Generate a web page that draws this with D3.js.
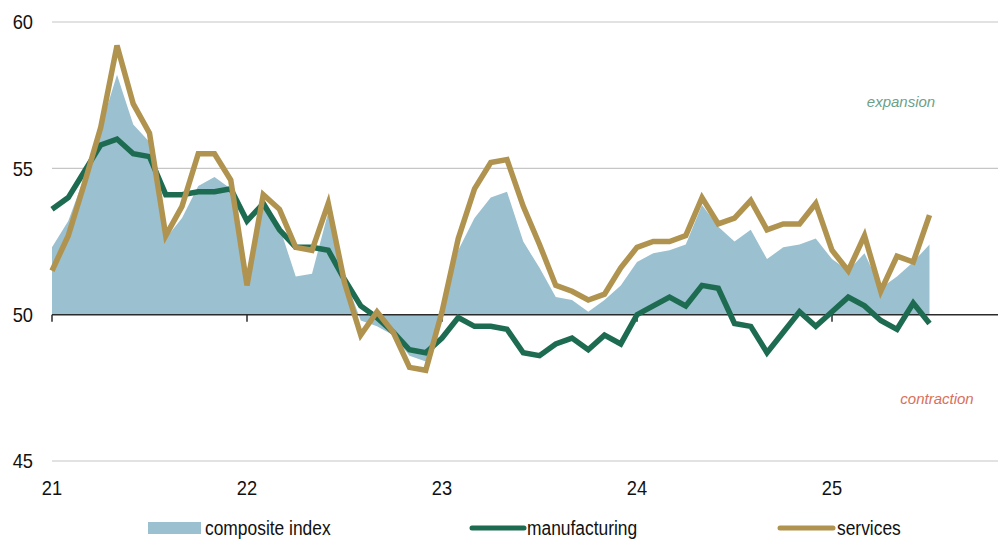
<!DOCTYPE html>
<html>
<head>
<meta charset="utf-8">
<script src="https://cdn.jsdelivr.net/npm/d3@7"></script>
<style>
  body { margin: 0; background: #fff; }
  svg { display: block; font-family: "Liberation Sans Narrow", "Arial Narrow", "Liberation Sans", Arial, sans-serif; }
</style>
</head>
<body>
<div id="chart"></div>
<script>
// monthly, Jan 2021 .. Jul 2025
const months = d3.timeMonth.range(new Date(2021, 0, 1), new Date(2025, 7, 1));

const composite = [
  52.3, 53.2, 54.7, 56.4, 58.2, 56.5, 55.9, 52.6, 53.3, 54.4, 54.7, 54.3,
  51.5, 54.0, 53.0, 51.3, 51.4, 53.5, 51.3, 49.8, 49.6, 49.3, 48.6, 48.4,
  50.2, 52.2, 53.3, 54.0, 54.2, 52.5, 51.6, 50.6, 50.5, 50.1, 50.5, 51.0,
  51.8, 52.1, 52.2, 52.4, 53.75, 53.0, 52.5, 52.9, 51.9, 52.3, 52.4, 52.6,
  51.9, 51.5, 52.1, 50.9, 51.3, 51.8, 52.4
];
const manufacturing = [
  53.6, 54.0, 54.9, 55.8, 56.0, 55.5, 55.4, 54.1, 54.1, 54.2, 54.2, 54.3,
  53.2, 53.8, 52.9, 52.3, 52.3, 52.2, 51.2, 50.3, 49.9, 49.4, 48.8, 48.7,
  49.2, 49.9, 49.6, 49.6, 49.5, 48.7, 48.6, 49.0, 49.2, 48.8, 49.3, 49.0,
  50.0, 50.3, 50.6, 50.3, 51.0, 50.9, 49.7, 49.6, 48.7, 49.4, 50.1, 49.6,
  50.1, 50.6, 50.3, 49.8, 49.5, 50.4, 49.7
];
const services = [
  51.5, 52.7, 54.5, 56.4, 59.2, 57.2, 56.2, 52.7, 53.7, 55.5, 55.5, 54.6,
  51.0, 54.1, 53.6, 52.3, 52.2, 53.8, 51.1, 49.3, 50.1, 49.4, 48.2, 48.1,
  50.1, 52.6, 54.3, 55.2, 55.3, 53.7, 52.4, 51.0, 50.8, 50.5, 50.7, 51.6,
  52.3, 52.5, 52.5, 52.7, 54.0, 53.1, 53.3, 53.9, 52.9, 53.1, 53.1, 53.8,
  52.2, 51.5, 52.7, 50.8, 52.0, 51.8, 53.4
];
const yTicks = [45, 50, 55, 60];
const xTickIdx = [0, 12, 24, 36, 48];
const xTickLabels = ["21", "22", "23", "24", "25"];

const W = 998, H = 539;
const svg = d3.select("#chart").append("svg").attr("width", W).attr("height", H);

const x = d3.scaleLinear().domain([0, 48]).range([52, 832]);
const y = d3.scaleLinear().domain([45, 60]).range([461, 22]);

const colArea = "#9bc0d0", colMan = "#1d6b50", colSer = "#b0934f";
const narrow = 0.87; // squeeze text like a narrow face

// grid
svg.append("g").selectAll("line")
  .data(yTicks.filter((d) => d !== 50))
  .enter().append("line")
  .attr("x1", 52).attr("x2", W)
  .attr("y1", (d) => y(d)).attr("y2", (d) => y(d))
  .attr("stroke", "#c6c6c6").attr("stroke-width", 1.2);

// y labels
svg.append("g").selectAll("text")
  .data(yTicks).enter().append("text")
  .attr("transform", (d) => "translate(33," + y(d) + ") scale(" + narrow + ",1)")
  .attr("dy", "0.35em")
  .attr("text-anchor", "end")
  .style("font-size", "21px").style("fill", "#111")
  .text((d) => d);

// composite area, around 50
const area = d3.area()
  .x((d, i) => x(i))
  .y0(y(50))
  .y1((d) => y(d));
svg.append("path").datum(composite)
  .attr("d", area).attr("fill", colArea);

// 50 baseline + year ticks
svg.append("line")
  .attr("x1", 52).attr("x2", W)
  .attr("y1", y(50)).attr("y2", y(50))
  .attr("stroke", "#2b2b2b").attr("stroke-width", 1.5);
svg.append("g").selectAll("line")
  .data(xTickIdx).enter().append("line")
  .attr("x1", (d) => x(d)).attr("x2", (d) => x(d))
  .attr("y1", y(50)).attr("y2", y(50) + 7)
  .attr("stroke", "#2b2b2b").attr("stroke-width", 1.5);

// x labels
svg.append("g").selectAll("text")
  .data(xTickIdx).enter().append("text")
  .attr("transform", (d) => "translate(" + x(d) + ",488) scale(" + narrow + ",1)")
  .attr("dy", "0.35em")
  .attr("text-anchor", "middle")
  .style("font-size", "21px").style("fill", "#111")
  .text((d, i) => xTickLabels[i]);

// lines
const line = d3.line().x((d, i) => x(i)).y((d) => y(d));
svg.append("path").datum(manufacturing)
  .attr("d", line).attr("fill", "none")
  .attr("stroke", colMan).attr("stroke-width", 5.5)
  .attr("stroke-linejoin", "miter");
svg.append("path").datum(services)
  .attr("d", line).attr("fill", "none")
  .attr("stroke", colSer).attr("stroke-width", 5.5)
  .attr("stroke-linejoin", "miter");

// annotations
svg.append("text").attr("x", 901).attr("y", 102).attr("dy", "0.35em")
  .attr("text-anchor", "middle")
  .style("font-family", "'Liberation Sans', Arial, sans-serif")
  .style("font-style", "italic").style("font-size", "15px")
  .style("fill", "#6d9f88").text("expansion");
svg.append("text").attr("x", 937).attr("y", 399).attr("dy", "0.35em")
  .attr("text-anchor", "middle")
  .style("font-family", "'Liberation Sans', Arial, sans-serif")
  .style("font-style", "italic").style("font-size", "15px")
  .style("fill", "#d8705c").text("contraction");

// legend
const legY = 528;
const leg = svg.append("g");
function legText(x0, label) {
  leg.append("text")
    .attr("transform", "translate(" + x0 + "," + legY + ") scale(" + narrow + ",1)")
    .attr("dy", "0.35em")
    .style("font-size", "20px").style("fill", "#111").text(label);
}
leg.append("rect").attr("x", 148).attr("y", legY - 6).attr("width", 53).attr("height", 12)
  .attr("fill", colArea);
legText(205, "composite index");
leg.append("line").attr("x1", 472).attr("x2", 524).attr("y1", legY).attr("y2", legY)
  .attr("stroke", colMan).attr("stroke-width", 5).attr("stroke-linecap", "round");
legText(527, "manufacturing");
leg.append("line").attr("x1", 780).attr("x2", 833).attr("y1", legY).attr("y2", legY)
  .attr("stroke", colSer).attr("stroke-width", 5).attr("stroke-linecap", "round");
legText(837, "services");
</script>
</body>
</html>
